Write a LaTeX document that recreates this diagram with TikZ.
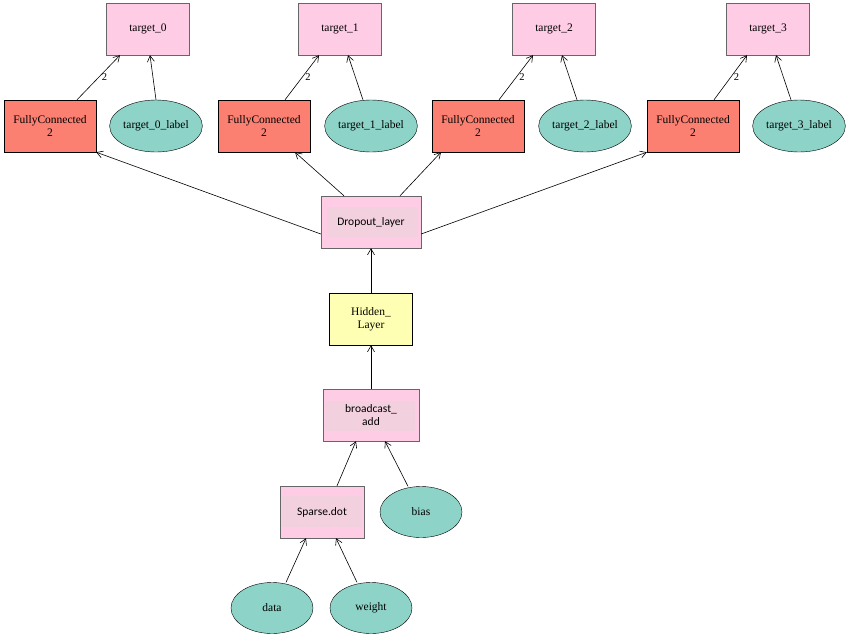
\documentclass[tikz,border=0pt]{standalone}
\usepackage{fontspec}
\setmainfont{Liberation Serif}
\newfontfamily\sansf{Carlito}
\usetikzlibrary{arrows.meta,shapes.geometric}
\definecolor{tpink}{HTML}{FFCCE6}
\definecolor{ipink}{HTML}{F2D0DE}
\definecolor{salmon}{HTML}{FB8072}
\definecolor{teal}{HTML}{8DD3C7}
\definecolor{yell}{HTML}{FFFFB3}
\definecolor{bgrey}{HTML}{666666}
\begin{document}
\begin{tikzpicture}[x=1pt,y=-1pt,
  every node/.style={font=\fontsize{11.5}{13.5}\selectfont, align=center},
  tbox/.style={rectangle,draw=bgrey,fill=tpink,minimum width=83pt,minimum height=52pt,inner sep=0pt},
  fcbox/.style={rectangle,draw=black,fill=salmon,minimum width=92pt,minimum height=52pt,inner sep=0pt},
  hbox/.style={rectangle,draw=black,fill=yell,minimum width=83pt,minimum height=52pt,inner sep=0pt},
  ebox/.style={rectangle,draw=bgrey,fill=tpink,minimum height=52pt,inner sep=0pt},
  etxt/.style={font=\sansf\fontsize{11.5}{13.5}\selectfont},
  lab/.style={ellipse,draw=black,fill=teal,minimum width=92pt,minimum height=52pt,inner sep=0pt},
  inp/.style={ellipse,draw=black,fill=teal,minimum width=82pt,minimum height=51pt,inner sep=0pt},
  conn/.style={draw=black,line width=0.6pt,-{Straight Barb[length=6pt,width=7pt]}},
  elab/.style={font=\fontsize{10.5}{12}\selectfont,inner sep=1pt}
]
\useasboundingbox (0,0) rectangle (850,637);
% top row
\node[tbox] (t0) at (148,29) {target\_0};
\node[tbox] (t1) at (340,29) {target\_1};
\node[tbox] (t2) at (554,29) {target\_2};
\node[tbox] (t3) at (768,29) {target\_3};
% FC row
\node[fcbox] (f0) at (50,126) {FullyConnected\\2};
\node[fcbox] (f1) at (264,126) {FullyConnected\\2};
\node[fcbox] (f2) at (478,126) {FullyConnected\\2};
\node[fcbox] (f3) at (693,126) {FullyConnected\\2};
\node[lab] (l0) at (156,126) {target\_0\_label};
\node[lab] (l1) at (371,126) {target\_1\_label};
\node[lab] (l2) at (585,126) {target\_2\_label};
\node[lab] (l3) at (799,126) {target\_3\_label};
% middle
\node[ebox,minimum width=100pt] (dr) at (371,222) {};
\fill[ipink] (327,207) rectangle (418,237);
\node[etxt] (drt) at (371,222) {Dropout\_layer};
\node[hbox] (hl) at (371,319) {Hidden\_\\Layer};
\node[ebox,minimum width=96pt] (ba) at (371,415) {};
\fill[ipink] (325,401) rectangle (415,431);
\node[etxt] (bat) at (371,415) {broadcast\_\\add};
\node[ebox,minimum width=84pt] (sd) at (322,512) {};
\fill[ipink] (282,496) rectangle (362,527);
\node[etxt] (sdt) at (322,512) {Sparse.dot};
\node[inp] (bias) at (421,512) {bias};
\node[inp] (data) at (272,608) {data};
\node[inp] (wt) at (371,608) {weight};
% edges top
\draw[conn] ([xshift=27pt]f0.north) -- ([xshift=-28pt]t0.south) node[elab,pos=0.5,right,xshift=2pt] {2};
\draw[conn] (l0.north) -- ([xshift=2pt]t0.south);
\foreach \i in {1,2,3}{
  \draw[conn] ([xshift=21pt]f\i.north) -- ([xshift=-21pt]t\i.south) node[elab,pos=0.5,right,xshift=2pt] {2};
  \draw[conn] ([xshift=-8pt]l\i.north) -- ([xshift=8pt]t\i.south);
}
\draw[conn] ([yshift=-12pt]dr.west) -- (f0.south east);
\draw[conn] ([xshift=-27pt]dr.north) -- ([xshift=31pt]f1.south);
\draw[conn] ([xshift=29pt]dr.north) -- ([xshift=-37pt]f2.south);
\draw[conn] ([yshift=-12pt]dr.east) -- (f3.south west);
\draw[conn] (hl.north) -- (dr.south);
\draw[conn] (ba.north) -- (hl.south);
\draw[conn] ([xshift=15pt]sd.north) -- ([xshift=-15pt]ba.south);
\draw[conn] ([xshift=-13pt]bias.north) -- ([xshift=14pt]ba.south);
\draw[conn] ([xshift=14pt]data.north) -- ([xshift=-16pt]sd.south);
\draw[conn] ([xshift=-14pt]wt.north) -- ([xshift=14pt]sd.south);
\end{tikzpicture}
\end{document}
